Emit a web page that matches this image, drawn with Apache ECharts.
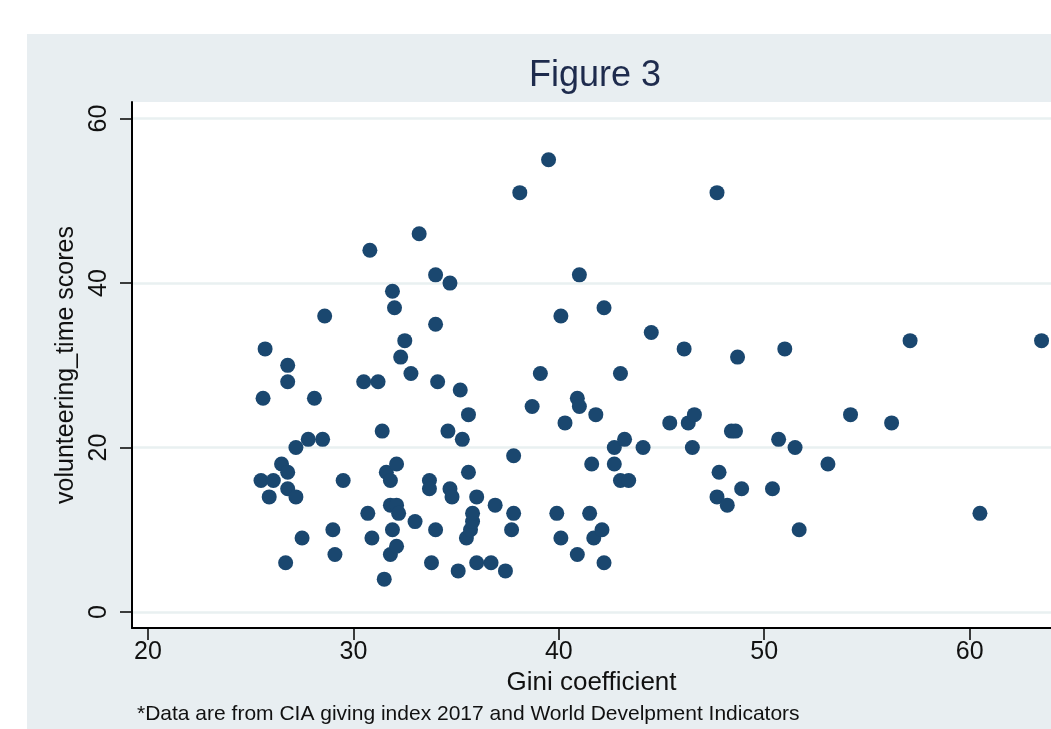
<!DOCTYPE html>
<html>
<head>
<meta charset="utf-8">
<title>Figure 3</title>
<script src="https://cdn.jsdelivr.net/npm/echarts@6/dist/echarts.min.js"></script>
<style>
    html, body { margin: 0; padding: 0; background: #fff; }
    #fd-chart-scatter { width: 1051px; height: 729px; }
</style>
</head>
<body>
<div id="fd-chart-scatter"></div>
<script>
// Gini coefficient (x) and volunteering_time scores (y), one entry per country
var giniValues = [
    25.5, 25.6, 25.7, 25.9, 26.1, 26.5, 26.7, 26.8, 26.8, 26.8, 26.8, 27.2, 27.2, 27.5, 27.8, 28.1, 28.5, 28.6, 29.0, 29.1, 29.5,
    30.5, 30.7, 30.8, 30.9, 31.2, 31.4, 31.5, 31.6, 31.8, 31.8, 31.8, 31.9, 31.9, 32.0, 32.1, 32.1, 32.1, 32.2, 32.3, 32.5, 32.8,
    33.0, 33.2, 33.7, 33.7, 33.8, 34.0, 34.0, 34.0, 34.1, 34.6, 34.7, 34.7, 34.8, 35.1, 35.2, 35.3, 35.5, 35.6, 35.6, 35.7, 35.8,
    35.8, 36.0, 36.0, 36.7, 36.9, 37.4, 37.8, 37.7, 37.8, 38.1, 38.7, 39.1, 39.5, 39.9, 40.1, 40.1, 40.3, 40.9, 40.9, 41.0, 41.0,
    41.5, 41.6, 41.7, 41.8, 42.1, 42.2, 42.2, 42.7, 42.7, 43.0, 43.0, 43.2, 43.4, 44.1, 44.5, 45.4, 46.1, 46.3, 46.5, 46.6, 47.7,
    47.7, 47.8, 48.2, 48.4, 48.6, 48.7, 48.9, 50.4, 50.7, 51.0, 51.5, 51.7, 53.1, 54.2, 56.2, 57.1, 60.5, 63.5
];
var volunteerScores = [
    16, 26, 32, 14, 16, 18, 6, 17, 15, 28, 30, 14, 20, 9, 21, 26, 21, 36, 10, 7, 16,
    28, 12, 44, 9, 28, 22, 4, 17, 16, 13, 7, 10, 39, 37, 18, 13, 8, 12, 31, 33, 29,
    11, 46, 16, 15, 6, 10, 41, 35, 28, 22, 40, 15, 14, 5, 27, 21, 9, 24, 17, 10, 11,
    12, 14, 6, 6, 13, 5, 12, 10, 19, 51, 25, 29, 55, 12, 36, 9, 23, 26, 7, 25, 41,
    12, 18, 9, 24, 10, 37, 6, 20, 18, 16, 29, 21, 16, 20, 34, 23, 32, 23, 20, 24, 51,
    14, 17, 13, 22, 22, 31, 15, 15, 21, 32, 20, 10, 18, 24, 23, 33, 12, 33
];
var xTicks = [20, 30, 40, 50, 60];
var yTicks = [0, 20, 40, 60];

var fontName = "'Liberation Sans', Arial, sans-serif";

function chartScatter() {
    var scatterChart = echarts.init(document.getElementById('fd-chart-scatter'));
    var points = giniValues.map(function (g, i) {
        return [g, volunteerScores[i]];
    });
    var option = {
        backgroundColor: '#e8eef1',
        animation: false,
        graphic: [
            // white outer margin (top and left)
            { type: 'rect', shape: { x: 0, y: 0, width: 1051, height: 34 }, style: { fill: '#ffffff' } },
            { type: 'rect', shape: { x: 0, y: 0, width: 27, height: 729 }, style: { fill: '#ffffff' } },
            {
                type: 'text',
                style: {
                    text: 'Figure 3', x: 595, y: 76,
                    textAlign: 'center', textVerticalAlign: 'middle',
                    fontFamily: fontName, fontSize: 36, fill: '#1e2b4d'
                }
            },
            {
                type: 'text',
                style: {
                    text: '*Data are from CIA giving index 2017 and World Develpment Indicators',
                    x: 137, y: 714,
                    textAlign: 'left', textVerticalAlign: 'middle',
                    fontFamily: fontName, fontSize: 21, fill: '#111111'
                }
            }
        ],
        grid: {
            left: 132, top: 102, right: 0, bottom: 101,
            show: true, backgroundColor: '#ffffff', borderWidth: 0
        },
        xAxis: {
            type: 'value',
            min: 19.22, max: 63.96,
            z: 3,
            name: 'Gini coefficient',
            nameLocation: 'middle',
            nameGap: 38,
            nameTextStyle: { fontFamily: fontName, fontSize: 26, color: '#111' },
            axisLine: { show: true, onZero: false, lineStyle: { color: '#000', width: 2 } },
            axisTick: { show: true, length: 12, customValues: xTicks, lineStyle: { color: '#000', width: 1.5 } },
            axisLabel: { customValues: xTicks, margin: 12, fontFamily: fontName, fontSize: 25, color: '#111' },
            splitLine: { show: false }
        },
        yAxis: {
            type: 'value',
            min: -1.94, max: 62.02,
            z: 3,
            name: 'volunteering_time scores',
            nameLocation: 'middle',
            nameGap: 46,
            nameRotate: 90,
            nameTextStyle: { fontFamily: fontName, fontSize: 25, color: '#111' },
            axisLine: { show: true, onZero: false, lineStyle: { color: '#000', width: 2 } },
            axisTick: { show: true, length: 12, customValues: yTicks, lineStyle: { color: '#000', width: 1.5 } },
            axisLabel: { customValues: yTicks, rotate: 90, margin: 20, fontFamily: fontName, fontSize: 25, color: '#111' },
            splitLine: { show: false }
        },
        series: [
            {
                name: 'volunteering_time scores',
                type: 'scatter',
                symbol: 'circle',
                symbolSize: 15,
                z: 2,
                itemStyle: { color: '#1a476f', opacity: 1 },
                data: points,
                markLine: {
                    z: 1,
                    silent: true,
                    symbol: 'none',
                    label: { show: false },
                    lineStyle: { color: '#e9f0f1', width: 2.5, type: 'solid' },
                    data: yTicks.map(function (v) { return { yAxis: v }; })
                }
            }
        ]
    };
    scatterChart.setOption(option);
}

chartScatter();
</script>
</body>
</html>
